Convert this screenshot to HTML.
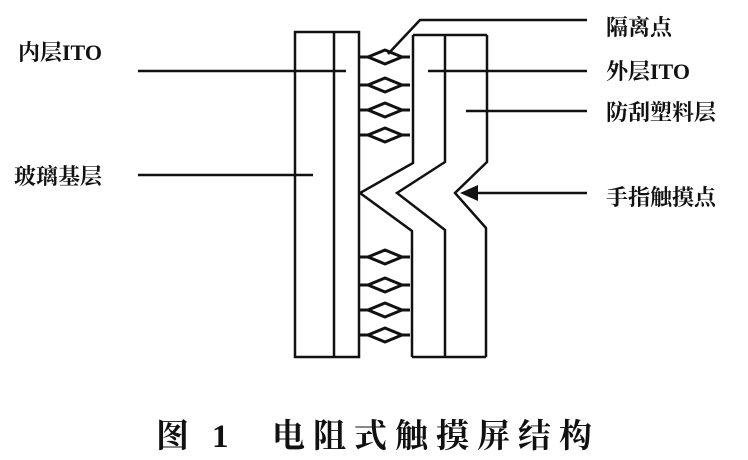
<!DOCTYPE html>
<html><head><meta charset="utf-8"><style>
html,body{margin:0;padding:0;background:#fff;}
svg{display:block}
text{font-family:"Liberation Serif","Noto Serif CJK SC",serif;fill:#111;}
</style></head><body>
<svg width="748" height="460" viewBox="0 0 748 460" xmlns="http://www.w3.org/2000/svg">
<defs>
<g id="d"><path d="M360,0 h8 L385,-7 L402,0 h8 M368,0 L385,7 L402,0" stroke="#111" stroke-width="3" fill="none" stroke-linejoin="round"/></g>
</defs>
<g stroke="#111" stroke-width="2.5" fill="none" stroke-linejoin="miter">
<rect x="295" y="32" width="64" height="325"/>
<line x1="334" y1="32" x2="334" y2="357"/>
<polyline points="413,35 413,163 360,193 412,231 412,357"/>
<polyline points="445,35 445,162 397,193 445,230 445,357"/>
<polyline points="487,35 487,162 455,193 486,228 486,357"/>
<line x1="413" y1="35" x2="487" y2="35"/>
<line x1="412" y1="357" x2="486" y2="357"/>
<line x1="138" y1="71" x2="346" y2="71"/>
<line x1="138" y1="175" x2="313" y2="175"/>
<line x1="428" y1="71" x2="587" y2="71"/>
<line x1="466" y1="111" x2="587" y2="111"/>
<polyline points="388,54 420,20 587,20"/>
<line x1="470" y1="193" x2="587" y2="193"/>
</g>
<polygon points="460,193 478,185 478,201" fill="#111"/>
<use href="#d" y="57"/><use href="#d" y="85"/><use href="#d" y="110"/><use href="#d" y="135"/>
<use href="#d" y="257"/><use href="#d" y="285"/><use href="#d" y="310"/><use href="#d" y="335"/>
<g font-size="22" font-weight="bold">
<text x="18" y="60">内层ITO</text>
<text x="14" y="184">玻璃基层</text>
<text x="606" y="35">隔离点</text>
<text x="606" y="79">外层ITO</text>
<text x="606" y="120">防刮塑料层</text>
<text x="606" y="205">手指触摸点</text>
</g>
<g font-size="33" font-weight="bold">
<text x="156" y="447">图</text>
<text x="212" y="447">1</text>
<text x="272" y="447" letter-spacing="8">电阻式触摸屏结构</text>
</g>
</svg>
</body></html>
